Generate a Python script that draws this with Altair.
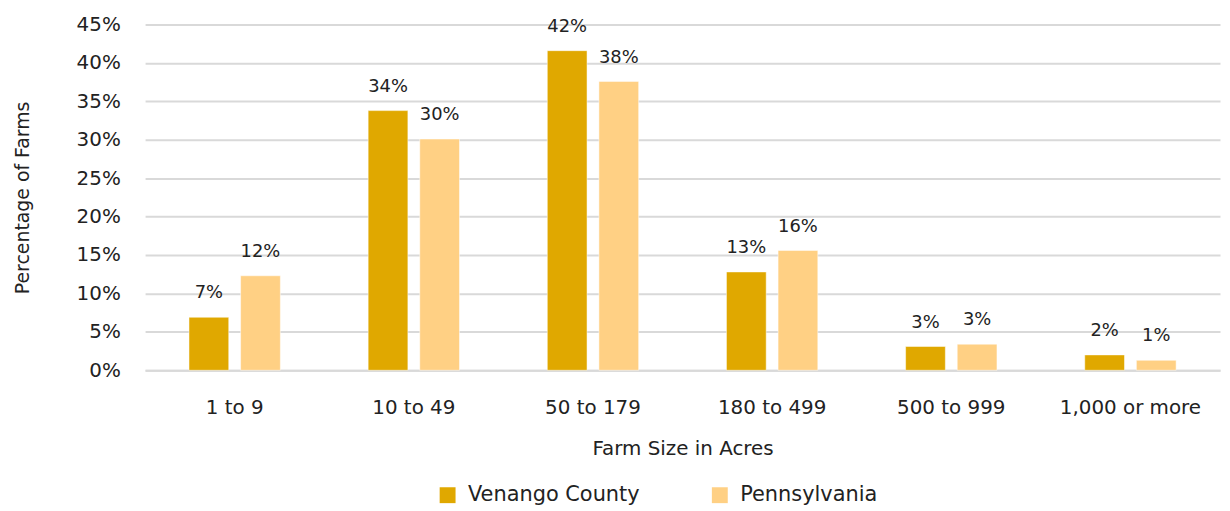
import altair as alt
import pandas as pd

categories = ["1 to 9", "10 to 49", "50 to 179", "180 to 499", "500 to 999", "1,000 or more"]
venango = [6.9, 33.8, 41.6, 12.8, 3.1, 2.0]
pennsylvania = [12.3, 30.1, 37.6, 15.6, 3.4, 1.3]
series = ["Venango County", "Pennsylvania"]
colors = ["#E0A800", "#FFD084"]

rows = []
for i, c in enumerate(categories):
    rows.append({"cat": c, "series": series[0], "value": venango[i]})
    rows.append({"cat": c, "series": series[1], "value": pennsylvania[i]})
df = pd.DataFrame(rows)

FONT = "DejaVu Sans"
TXT = "#222222"

x = alt.X("cat:N", sort=categories, title="Farm Size in Acres",
          scale=alt.Scale(paddingInner=0.49, paddingOuter=0.245),
          axis=alt.Axis(labelAngle=0, labelFontSize=20, titleFontSize=20, labelFont=FONT, titleFont=FONT,
                        labelColor=TXT, titleColor=TXT, ticks=False, domainColor="#D9D9D9", domainWidth=2,
                        labelPadding=28, titlePadding=21, titleFontWeight="normal", labelLimit=300))
y = alt.Y("value:Q", title="Percentage of Farms",
          scale=alt.Scale(domain=[0, 45], nice=False),
          axis=alt.Axis(values=list(range(0, 50, 5)), labelExpr="datum.value + '%'", labelFontSize=20,
                        titleFontSize=19, labelFont=FONT, titleFont=FONT, labelColor=TXT, titleColor=TXT,
                        ticks=False, domain=False, gridColor="#D9D9D9", gridWidth=2, labelPadding=25,
                        titlePadding=44, titleFontWeight="normal", labelOverlap=False))
xo = alt.XOffset("series:N", sort=series, scale=alt.Scale(paddingInner=0.23, paddingOuter=0))

bars = alt.Chart(df).mark_bar(stroke="white", strokeWidth=0.5).encode(
    x=x, y=y, xOffset=xo,
    color=alt.Color("series:N", sort=series, scale=alt.Scale(domain=series, range=colors),
                    legend=alt.Legend(title=None, orient="none", legendX=294, legendY=463, direction="horizontal",
                                      symbolType="square", symbolSize=256, symbolStrokeWidth=0,
                                      labelFontSize=21, labelFont=FONT, labelColor=TXT, columnPadding=70,
                                      labelOffset=10, labelLimit=400))
)

labels = alt.Chart(df).transform_calculate(
    lab="format(datum.value, '.0f') + '%'"
).mark_text(baseline="bottom", dy=-15, fontSize=18, font=FONT, color=TXT).encode(
    x=x, y=y, xOffset=xo, text="lab:N"
)

chart = (bars + labels).properties(
    width=1082, height=348, padding={"left": 138, "top": 15, "right": 2, "bottom": 140},
    autosize=alt.AutoSizeParams(type="none")
).configure_view(stroke=None)

chart.save("out.html", embed_options={"renderer": "svg", "actions": False})
